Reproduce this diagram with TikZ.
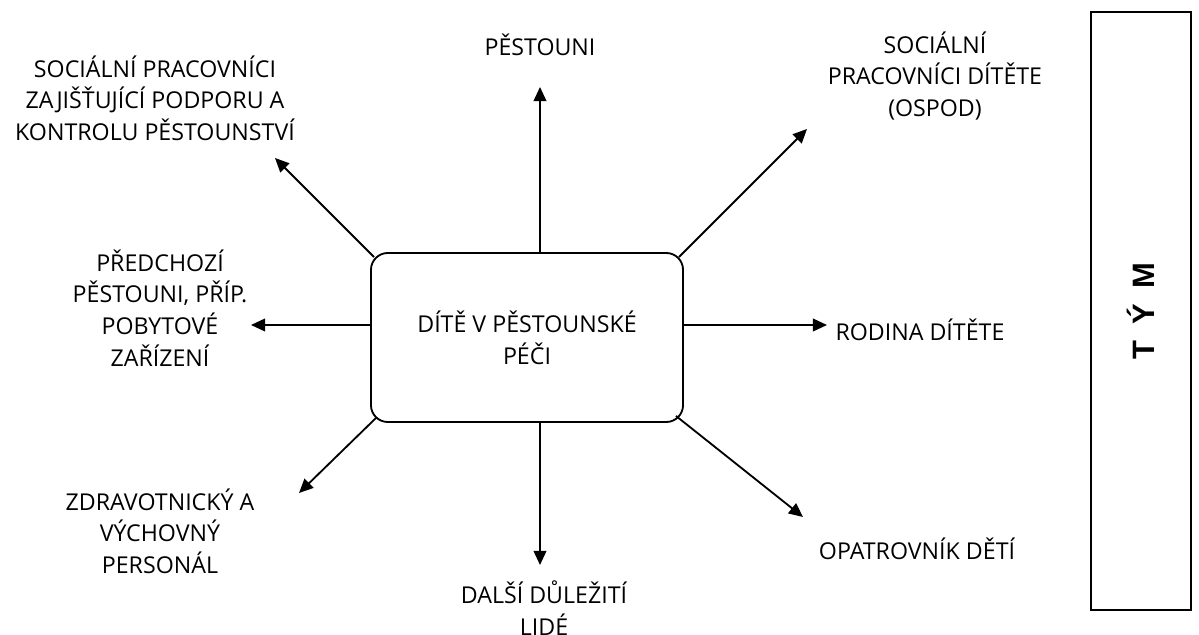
\documentclass[tikz,border=0pt]{standalone}
\usepackage{fontspec}
\setmainfont{Open Sans}
\newfontfamily\teamfont{Liberation Sans}
\usetikzlibrary{arrows.meta,calc}

\begin{document}
\begin{tikzpicture}[
  x=0.025cm, y=-0.025cm,
  line width=1.3pt,
  arr/.style = {-{Triangle[length=10pt,width=9pt]}},
  member/.style = {align=center,inner sep=0pt,
    font=\fontsize{16.5}{22.5}\selectfont},
  centrebox/.style = {draw,rounded corners=12pt,align=center,
    minimum width=7.8cm,minimum height=4.225cm,
    font=\fontsize{16.5}{22.5}\selectfont},
  teambox/.style = {draw,rotate=90,minimum width=14.95cm,minimum height=2.5cm,
    font=\teamfont\bfseries\fontsize{22}{26}\selectfont}
  ]
  \useasboundingbox (0,0) rectangle (1199,635);
  % child in the middle
  \node[centrebox] (child) at (527,337.5) {DÍTĚ V PĚSTOUNSKÉ\\PÉČI};
  %
  \node[member] (pestouni)  at (540,45)  {PĚSTOUNI};
  \node[member] (ospod)     at (935,76)  {SOCIÁLNÍ\\PRACOVNÍCI DÍTĚTE\\(OSPOD)};
  \node[member] (podpora)   at (155,98)  {SOCIÁLNÍ PRACOVNÍCI\\ZAJIŠŤUJÍCÍ PODPORU A\\KONTROLU PĚSTOUNSTVÍ};
  \node[member] (predchozi) at (160,308) {PŘEDCHOZÍ\\PĚSTOUNI, PŘÍP.\\POBYTOVÉ\\ZAŘÍZENÍ};
  \node[member] (rodina)    at (920,330) {RODINA DÍTĚTE};
  \node[member] (personal)  at (160,531) {ZDRAVOTNICKÝ A\\VÝCHOVNÝ\\PERSONÁL};
  \node[member] (opatrovnik) at (917,549) {OPATROVNÍK DĚTÍ};
  \node[member] (dalsi)     at (544,608) {DALŠÍ DŮLEŽITÍ\\LIDÉ};
  %
  \coordinate (tN)  at (540,87);
  \coordinate (tS)  at (540,565);
  \coordinate (tW)  at (251,325);
  \coordinate (tE)  at (827,325);
  \coordinate (tNW) at (275,158);
  \coordinate (tNE) at (807,129);
  \coordinate (tSW) at (299,493);
  \coordinate (tSE) at (803,517);
  \draw[arr] (child.north -| tN) -- (tN);
  \draw[arr] (child.south -| tS) -- (tS);
  \draw[arr] (child.west |- tW) -- (tW);
  \draw[arr] (child.east |- tE) -- (tE);
  \draw[arr] ($(child.north west)+(4,5)$) -- (tNW);
  \draw[arr] ($(child.north east)+(-5,5)$) -- (tNE);
  \draw[arr] ($(child.south west)+(6,-5)$) -- (tSW);
  \draw[arr] ($(child.south east)+(-8,-7)$) -- (tSE);
  %
  \node[teambox] (team) at (1141,311) {T\hspace{0.5em}Ý\hspace{0.5em}M};
\end{tikzpicture}
\end{document}
